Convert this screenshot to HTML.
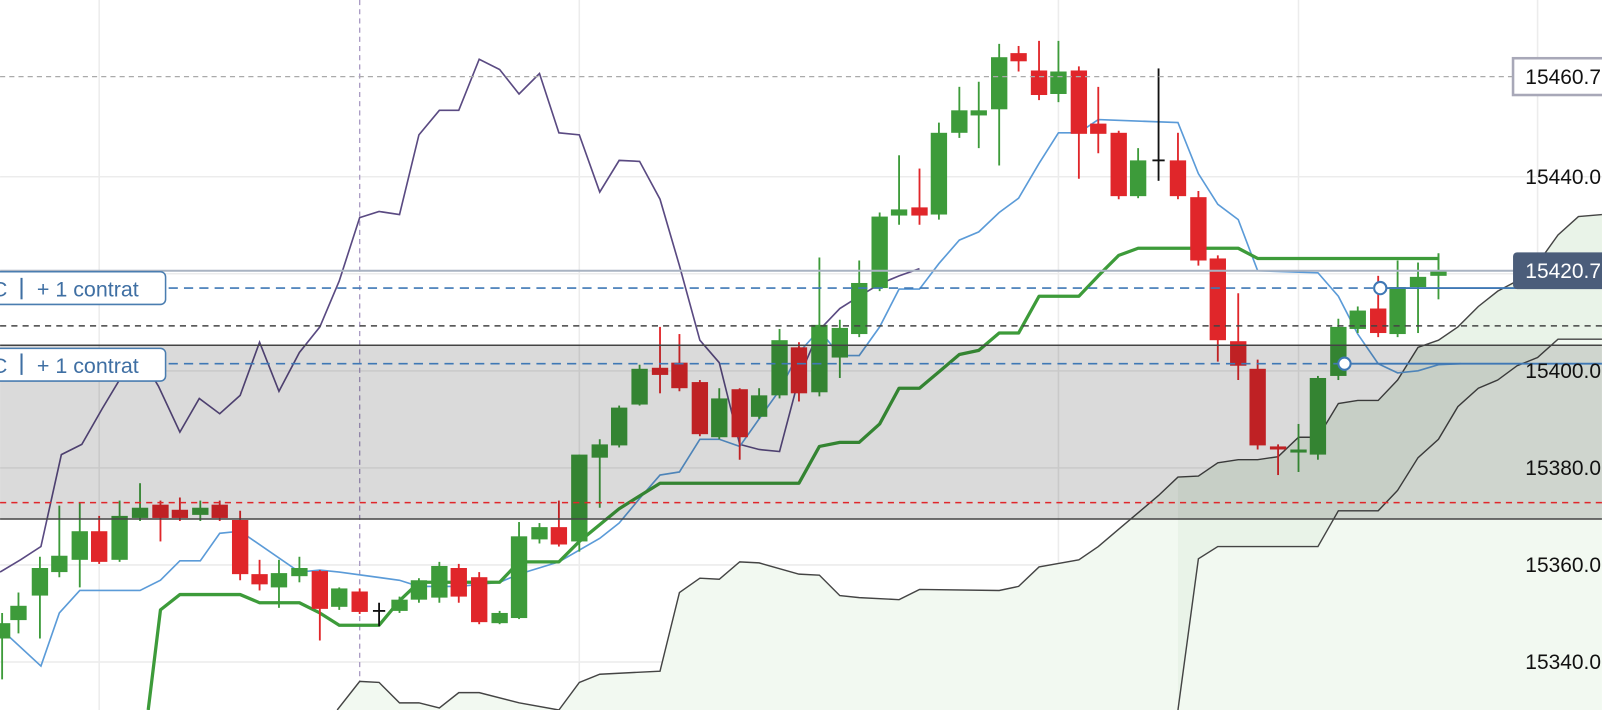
<!DOCTYPE html>
<html><head><meta charset="utf-8"><style>
html,body{margin:0;padding:0;background:#fff;overflow:hidden}
svg{display:block}
text{font-family:"Liberation Sans",sans-serif}
</style></head><body>
<svg id="c" width="1602" height="710" viewBox="0 0 1568 695" xmlns="http://www.w3.org/2000/svg">
<g stroke="#ececec" stroke-width="1.5">
<line x1="97" y1="0" x2="97" y2="695"/><line x1="567" y1="0" x2="567" y2="695"/><line x1="1036" y1="0" x2="1036" y2="695"/><line x1="1271" y1="0" x2="1271" y2="695"/><line x1="1505" y1="0" x2="1505" y2="695"/>
<line x1="0" y1="173" x2="1568" y2="173"/><line x1="0" y1="268" x2="1568" y2="268"/><line x1="0" y1="363" x2="1568" y2="363"/><line x1="0" y1="458" x2="1568" y2="458"/><line x1="0" y1="553" x2="1568" y2="553"/><line x1="0" y1="648" x2="1568" y2="648"/>
</g>
<line x1="352" y1="0" x2="352" y2="695" stroke="#a99bc4" stroke-width="1.3" stroke-dasharray="5,4"/>
<g id="cloud"></g>
<g id="lines"></g>
<g id="candles"></g>
<rect x="0" y="338" width="1568" height="170" fill="#dadada" style="mix-blend-mode:multiply"/>
<line x1="0" y1="338" x2="1568" y2="338" stroke="#444" stroke-width="1.5"/>
<line x1="0" y1="508" x2="1568" y2="508" stroke="#444" stroke-width="1.5"/>
<line x1="0" y1="75" x2="1480" y2="75" stroke="#aaa" stroke-width="1.3" stroke-dasharray="5,4"/>
<line x1="0" y1="265" x2="1568" y2="265" stroke="#a9b3c2" stroke-width="2"/>
<line x1="0" y1="282" x2="1349" y2="282" stroke="#3f78b5" stroke-width="1.6" stroke-dasharray="9,6"/>
<line x1="1349" y1="282" x2="1568" y2="282" stroke="#3f78b5" stroke-width="1.8"/>
<line x1="0" y1="319" x2="1568" y2="319" stroke="#444" stroke-width="1.5" stroke-dasharray="6,5"/>
<line x1="0" y1="356" x2="1316" y2="356" stroke="#3f78b5" stroke-width="1.6" stroke-dasharray="9,6"/>
<line x1="1316" y1="356" x2="1568" y2="356" stroke="#3f78b5" stroke-width="1.8"/>
<line x1="0" y1="492" x2="1568" y2="492" stroke="#e0262a" stroke-width="1.5" stroke-dasharray="6,5"/>
<circle cx="1351" cy="282" r="6" fill="#fff" stroke="#3f78b5" stroke-width="2"/>
<circle cx="1316" cy="356" r="6" fill="#fff" stroke="#3f78b5" stroke-width="2"/>
<g font-size="20.5" fill="#111">
<text x="1493" y="180">15440.0</text><text x="1493" y="370">15400.0</text><text x="1493" y="465">15380.0</text><text x="1493" y="560">15360.0</text><text x="1493" y="655">15340.0</text>
</g>
<rect x="1481" y="57" width="100" height="36" fill="#fff" stroke="#a8a8b8" stroke-width="2.5"/>
<text x="1493" y="82" font-size="20.5" fill="#111">15460.7</text>
<rect x="1481" y="247" width="100" height="36" rx="4" fill="#4b5d7a"/>
<text x="1493" y="272" font-size="20.5" fill="#fff">15420.7</text>
<g font-size="21" fill="#3f6fa3">
<rect x="-20" y="266" width="182" height="32" rx="5" fill="#fff" stroke="#4a7db0" stroke-width="1.5"/>
<text x="-8" y="290">C</text><line x1="21" y1="272" x2="21" y2="293" stroke="#3f6fa3" stroke-width="2"/><text x="36" y="290">+ 1 contrat</text>
<rect x="-20" y="341" width="182" height="32" rx="5" fill="#fff" stroke="#4a7db0" stroke-width="1.5"/>
<text x="-8" y="365">C</text><line x1="21" y1="346" x2="21" y2="367" stroke="#3f6fa3" stroke-width="2"/><text x="36" y="365">+ 1 contrat</text>
</g>
</svg>
<script>
var NS="http://www.w3.org/2000/svg";
function el(p,t,a){var e=document.createElementNS(NS,t);for(var k in a)e.setAttribute(k,a[k]);p.appendChild(e);return e;}
function pts(a){return a.map(function(p){return p.join(",")}).join(" ");}
var cloud=document.getElementById("cloud"),lines=document.getElementById("lines"),cg=document.getElementById("candles");
var up=[[330,695],[352,667],[371,668],[391,688],[410,688],[430,693],[449,678],[469,678],[508,688],[547,695],[567,668],[587,660],[646,657],[665,580],[685,566],[704,567],[724,550],[743,551],[782,562],[802,563],[822,583],[841,585],[880,587],[900,577],[978,578],[997,574],[1017,555],[1056,548],[1075,535],[1095,518],[1114,502],[1134,485],[1153,467],[1173,466],[1192,453],[1212,450],[1231,450],[1251,447],[1271,428],[1290,428],[1310,395],[1329,392],[1349,392],[1368,372],[1388,340],[1408,333],[1427,320],[1447,300],[1466,285],[1485,275],[1505,258],[1525,230],[1545,212],[1568,210]];
var lo=[[1153,695],[1173,547],[1192,535],[1212,535],[1290,535],[1310,500],[1349,500],[1368,480],[1388,448],[1408,430],[1427,398],[1447,380],[1466,372],[1485,358],[1505,350],[1525,332],[1568,332]];
el(cloud,"polygon",{points:pts(up.concat([[1568,695],[330,695]])),fill:"#f2f9f1"});
el(cloud,"polygon",{points:pts(up.filter(function(p){return p[0]>=1153}).concat(lo.slice().reverse())),fill:"#e9f3e8"});
el(cloud,"polyline",{points:pts(up),fill:"none",stroke:"#444",'stroke-width':1.4});
el(cloud,"polyline",{points:pts(lo),fill:"none",stroke:"#444",'stroke-width':1.4});
var pur=[[0,560],[20,548],[40,535],[60,445],[80,435],[100,400],[118,370],[137,348],[155,378],[176,423],[195,390],[215,405],[235,387],[254,335],[273,383],[293,345],[313,320],[332,275],[352,213],[371,207],[391,210],[410,132],[430,108],[449,108],[469,58],[489,68],[508,92],[528,72],[547,130],[567,132],[587,188],[606,157],[626,158],[646,195],[665,260],[685,333],[704,355],[724,435],[743,440],[763,442],[782,370],[802,323],[822,302],[841,290],[861,278],[880,270],[900,263]];
el(lines,"polyline",{points:pts(pur),fill:"none",stroke:"#5a4a82",'stroke-width':1.6});
var bl=[[0,615],[40,652],[58,600],[78,578],[137,578],[157,568],[176,549],[196,549],[215,522],[235,520],[293,560],[313,558],[332,560],[391,568],[410,574],[449,574],[489,570],[508,562],[547,550],[587,527],[606,512],[626,488],[646,465],[665,462],[685,430],[704,430],[724,437],[743,410],[763,382],[782,345],[802,323],[822,348],[841,348],[861,320],[880,283],[900,283],[919,258],[939,235],[958,227],[978,208],[997,194],[1017,160],[1036,130],[1056,130],[1075,117],[1153,120],[1173,170],[1192,200],[1212,215],[1231,265],[1290,267],[1310,290],[1329,327],[1349,356],[1368,365],[1388,363],[1408,357],[1430,356]];
el(lines,"polyline",{points:pts(bl),fill:"none",stroke:"#5b9bd8",'stroke-width':1.6});
var gr=[[145,695],[157,597],[176,582],[235,582],[254,590],[293,590],[313,600],[332,612],[371,612],[391,588],[410,570],[449,570],[489,570],[508,550],[547,550],[567,530],[606,498],[646,473],[782,473],[802,437],[822,433],[841,433],[861,415],[880,380],[900,380],[919,364],[939,347],[958,343],[978,326],[997,326],[1017,290],[1056,290],[1075,270],[1095,250],[1114,243],[1212,243],[1231,253],[1408,253]];
el(lines,"polyline",{points:pts(gr),fill:"none",stroke:"#3d9b3a",'stroke-width':3.2,'stroke-linejoin':'round'});
el(lines,"line",{x1:1408,y1:248,x2:1408,y2:265,stroke:"#3d9b3a",'stroke-width':1.8});
var C=[[2,'g',610,625,600,665],[18,'g',593,607,580,620],[39,'g',556,583,545,625],[58,'g',544,560,495,565],[78,'g',520,548,492,575],[97,'r',520,550,505,552],[117,'g',505,548,490,550],[137,'g',497,507,473,510],[157,'r',494,507,490,530],[176,'r',499,507,487,510],[196,'g',497,504,490,510],[215,'r',494,507,490,510],[235,'r',509,562,500,568],[254,'r',562,572,548,578],[273,'g',561,575,548,595],[293,'g',556,564,545,570],[313,'r',559,596,558,627],[332,'g',576,594,575,597],[352,'r',579,599,576,601],[371,'k',597,599,590,613],[391,'g',587,598,584,600],[410,'g',568,587,566,590],[430,'g',554,585,550,590],[449,'r',556,584,552,590],[469,'r',565,609,560,611],[489,'g',600,610,598,611],[508,'g',525,605,511,606],[528,'g',516,528,512,532],[547,'r',516,533,490,535],[567,'g',445,530,445,540],[587,'g',435,448,430,497],[606,'g',399,436,397,438],[626,'g',361,396,357,397],[646,'r',360,367,320,385],[665,'r',355,380,327,383],[685,'r',374,425,372,427],[704,'g',390,428,380,430],[724,'r',381,428,380,450],[743,'g',387,408,380,410],[763,'g',333,387,322,390],[782,'r',340,385,335,393],[802,'g',318,384,252,388],[822,'g',321,350,313,370],[841,'g',277,327,255,330],[861,'g',212,282,208,285],[880,'g',205,211,152,220],[900,'r',203,211,165,220],[919,'g',130,210,120,215],[939,'g',108,130,85,135],[958,'g',108,113,80,145],[978,'g',56,107,43,162],[997,'r',52,60,45,70],[1017,'r',69,93,40,98],[1036,'g',70,92,40,100],[1056,'r',69,131,65,175],[1075,'r',121,131,85,150],[1095,'r',130,192,128,195],[1114,'g',157,192,145,194],[1134,'k',156,158,67,177],[1153,'r',157,192,130,195],[1173,'r',193,255,187,260],[1192,'r',253,333,250,354],[1212,'r',334,358,287,372],[1231,'r',361,436,352,440],[1251,'r',437,440,435,465],[1271,'g',440,443,415,462],[1290,'g',370,445,368,450],[1310,'g',320,368,312,372],[1329,'g',304,322,300,326],[1349,'r',302,326,270,330],[1368,'g',281,327,255,330],[1388,'g',271,281,257,326],[1408,'g',265,270,248,293]];
var col={g:'#3d9b3a',r:'#e0262a',k:'#111'};
C.forEach(function(c){var f=col[c[1]];
el(cg,"line",{x1:c[0],y1:c[4],x2:c[0],y2:c[5],stroke:f,'stroke-width':1.8});
if(c[1]=='k'){el(cg,"line",{x1:c[0]-6,y1:c[2]+1,x2:c[0]+6,y2:c[2]+1,stroke:f,'stroke-width':1.8});}
else el(cg,"rect",{x:c[0]-8,y:c[2],width:16,height:Math.max(3,c[3]-c[2]),fill:f});});
</script>
</body></html>
